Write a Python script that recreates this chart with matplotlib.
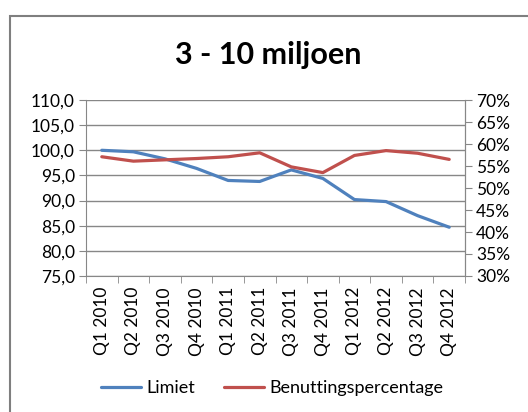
import matplotlib.pyplot as plt
from matplotlib.patches import Rectangle

# Data
quarters = ['Q1 2010', 'Q2 2010', 'Q3 2010', 'Q4 2010',
            'Q1 2011', 'Q2 2011', 'Q3 2011', 'Q4 2011',
            'Q1 2012', 'Q2 2012', 'Q3 2012', 'Q4 2012']
limiet = [100.0, 99.7, 98.3, 96.4, 94.0, 93.8, 96.1, 94.4, 90.2, 89.8, 87.0, 84.7]
benutting = [57.1, 56.1, 56.4, 56.7, 57.1, 58.0, 54.8, 53.5, 57.4, 58.5, 57.9, 56.5]
left_ticks = [75, 80, 85, 90, 95, 100, 105, 110]
right_ticks = [30, 35, 40, 45, 50, 55, 60, 65, 70]

BLUE = '#4F81BD'
RED = '#C0504D'
GRID = '#878787'
FONT = 'Lato'

plt.rcParams['font.family'] = [FONT, 'DejaVu Sans']

W, H = 528, 412
fig = plt.figure(figsize=(W / 100, H / 100), dpi=100)

# chart border (outer frame, cut by image edge)
fig.patches.append(Rectangle((10 / W, -0.1), 1.2, (H - 16) / H + 0.1,
                             transform=fig.transFigure, fill=False,
                             edgecolor='#7f7f7f', linewidth=1.5))

ax = fig.add_axes([86 / W, 1 - 276 / H, (465 - 86) / W, (276 - 100) / H])
x = list(range(len(quarters)))

ax.set_xlim(-0.5, len(quarters) - 0.5)
ax.set_ylim(75, 110)
ax.set_yticks(left_ticks)
ax.set_yticklabels([f'{v:.1f}'.replace('.', ',') for v in left_ticks])
ax.grid(axis='y', color=GRID, linewidth=1)
ax.set_axisbelow(True)

ax.set_xticks(x)
ax.set_xticklabels(quarters, rotation=90)
ax.set_xticks([i - 0.5 for i in range(len(quarters) + 1)], minor=True)
ax.tick_params(axis='x', which='major', length=0, pad=8)
ax.tick_params(axis='x', which='minor', length=5, color=GRID)
ax.tick_params(axis='y', length=5, color=GRID, pad=3)
ax.tick_params(labelsize=12.5, labelcolor='black')

ax.spines['top'].set_visible(False)
for s in ['left', 'bottom', 'right']:
    ax.spines[s].set_color(GRID)

l1, = ax.plot(x, limiet, color=BLUE, linewidth=2.3, solid_capstyle='round', label='Limiet')

ax2 = ax.twinx()
ax2.set_ylim(30, 70)
ax2.set_yticks(right_ticks)
ax2.set_yticklabels([f'{v}%' for v in right_ticks])
ax2.tick_params(axis='y', length=5, color=GRID, labelsize=12.5, pad=3)
for s in ['top', 'left', 'bottom']:
    ax2.spines[s].set_visible(False)
ax2.spines['right'].set_color(GRID)
l2, = ax2.plot(x, benutting, color=RED, linewidth=2.3, solid_capstyle='round',
               label='Benuttingspercentage')

fig.text(268 / W, 1 - 55 / H, '3 - 10 miljoen', ha='center', va='center',
         fontsize=22, fontweight='bold')

fig.legend(handles=[l1, l2], loc='center', bbox_to_anchor=(272 / W, 1 - 388 / H),
           ncol=2, frameon=False, fontsize=13, handlelength=2.2,
           columnspacing=1.6, handletextpad=0.3)

plt.savefig('out.png', dpi=100)
